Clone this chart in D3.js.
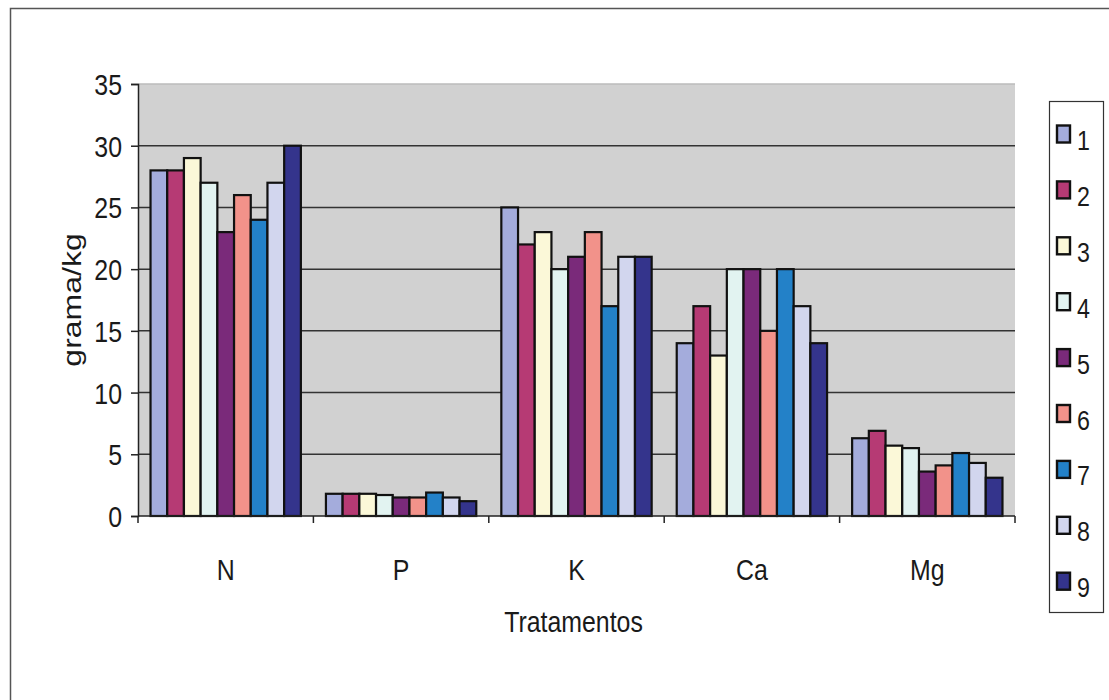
<!DOCTYPE html>
<html>
<head>
<meta charset="utf-8">
<script src="https://cdn.jsdelivr.net/npm/d3@7"></script>
<style>
  body { margin: 0; background: #fff; }
  text { font-family: "Liberation Sans", Arial, sans-serif; fill: #1a1a1a; }
</style>
</head>
<body>
<div id="chart"></div>
<script>
// nutrient categories on the x axis
var categories = ["N", "P", "K", "Ca", "Mg"];
// treatments 1..9 (legend)
var series = ["1", "2", "3", "4", "5", "6", "7", "8", "9"];
// values, one array per treatment (N, P, K, Ca, Mg)
var t1 = [28, 1.8, 25, 14, 6.3];
var t2 = [28, 1.8, 22, 17, 6.9];
var t3 = [29, 1.8, 23, 13, 5.7];
var t4 = [27, 1.7, 20, 20, 5.5];
var t5 = [23, 1.5, 21, 20, 3.6];
var t6 = [26, 1.5, 23, 15, 4.1];
var t7 = [24, 1.9, 17, 20, 5.1];
var t8 = [27, 1.5, 21, 17, 4.3];
var t9 = [30, 1.2, 21, 14, 3.1];
var values = [t1, t2, t3, t4, t5, t6, t7, t8, t9];
var yTicks = [0, 5, 10, 15, 20, 25, 30, 35];
var colors = ["#a4acdc", "#b63a74", "#fbf8d8", "#e2f3f1", "#7a2a7a",
              "#f2928a", "#2381c8", "#d2d6ee", "#34348c"];

var width = 1109, height = 700;
var margin = { left: 138, right: 1015, top: 84, bottom: 516 };
var squeeze = 0.83; // the picture is narrower than it is tall, text too

var svg = d3.select("#chart").append("svg")
    .attr("width", width)
    .attr("height", height);

// text squeezed horizontally like the reference
function label(parent, x, y, str, size, anchor) {
    return parent.append("text")
        .attr("transform", "translate(" + x + "," + y + ") scale(" + squeeze + ",1)")
        .attr("text-anchor", anchor || "start")
        .style("font-size", size + "px")
        .text(str);
}

// outer chart frame (only top and left edges fall inside the picture)
svg.append("rect")
    .attr("x", 10.5).attr("y", 8.5)
    .attr("width", 1130).attr("height", 720)
    .attr("fill", "none")
    .attr("stroke", "#555")
    .attr("stroke-width", 1.5);

var x0 = d3.scaleBand()
    .domain(categories)
    .range([margin.left, margin.right]);

// 150% gap width: 9 bars + 1.5 bar widths of gap per category
var x1 = d3.scaleBand()
    .domain(series)
    .range([0, x0.bandwidth()])
    .paddingOuter(0.75)
    .paddingInner(0);

var y = d3.scaleLinear()
    .domain([0, 35])
    .range([margin.bottom, margin.top]);

// plot area
svg.append("rect")
    .attr("x", margin.left)
    .attr("y", margin.top)
    .attr("width", margin.right - margin.left)
    .attr("height", margin.bottom - margin.top)
    .attr("fill", "#d1d1d1");

// gridlines
svg.append("g")
    .selectAll("line")
    .data(yTicks.filter(function(d) { return d > 0; }))
    .enter().append("line")
    .attr("x1", margin.left)
    .attr("x2", margin.right)
    .attr("y1", function(d) { return y(d); })
    .attr("y2", function(d) { return y(d); })
    .attr("stroke", function(d) { return d == 35 ? "#bbb" : "#333"; })
    .attr("stroke-width", 1.5);

// bars
var groups = svg.append("g")
    .selectAll("g")
    .data(categories)
    .enter().append("g")
    .attr("transform", function(d) { return "translate(" + x0(d) + ",0)"; });

groups.selectAll("rect")
    .data(function(c, ci) {
        return series.map(function(s, si) {
            return { s: s, v: values[si][ci], color: colors[si] };
        });
    })
    .enter().append("rect")
    .attr("x", function(d) { return x1(d.s); })
    .attr("y", function(d) { return y(d.v); })
    .attr("width", x1.bandwidth())
    .attr("height", function(d) { return y(0) - y(d.v); })
    .attr("fill", function(d) { return d.color; })
    .attr("stroke", "#111")
    .attr("stroke-width", 2.2);

// y axis (labels drawn separately so they can be squeezed)
var yAxis = svg.append("g")
    .attr("transform", "translate(" + margin.left + ",0)")
    .call(d3.axisLeft(y).tickValues(yTicks).tickSize(7).tickFormat(""));
yAxis.select(".domain").attr("stroke", "#222").attr("stroke-width", 1.5);
yAxis.selectAll(".tick line").attr("stroke", "#222").attr("stroke-width", 1.5);

var yLabels = svg.append("g");
yTicks.forEach(function(t) {
    label(yLabels, 122, y(t) + 11, t, 30, "end");
});

// x axis with ticks between categories
var xAxis = svg.append("g")
    .attr("transform", "translate(0," + margin.bottom + ")");
xAxis.append("line")
    .attr("x1", margin.left).attr("x2", margin.right)
    .attr("stroke", "#222").attr("stroke-width", 1.5);
xAxis.selectAll(".sep")
    .data(categories.concat(["end"]))
    .enter().append("line")
    .attr("x1", function(d, i) { return margin.left + i * x0.bandwidth(); })
    .attr("x2", function(d, i) { return margin.left + i * x0.bandwidth(); })
    .attr("y1", 0).attr("y2", 7)
    .attr("stroke", "#222").attr("stroke-width", 1.5);

var xLabels = svg.append("g");
categories.forEach(function(c) {
    label(xLabels, x0(c) + x0.bandwidth() / 2, 580, c, 30, "middle");
});

// axis titles
svg.append("text")
    .attr("transform", "translate(81," + (margin.top + margin.bottom) / 2 + ") scale(" + squeeze + ",1) rotate(-90)")
    .attr("text-anchor", "middle")
    .style("font-size", "32px")
    .text("grama/kg");

label(svg, (margin.left + margin.right) / 2 - 3, 632, "Tratamentos", 30, "middle");

// legend
var legend = svg.append("g");
legend.append("rect")
    .attr("x", 1049.5).attr("y", 101.5)
    .attr("width", 54).attr("height", 511)
    .attr("fill", "#fff")
    .attr("stroke", "#333")
    .attr("stroke-width", 1.2);

var items = legend.selectAll(".item")
    .data(series)
    .enter().append("g")
    .attr("transform", function(d, i) { return "translate(1057," + (134 + i * 55.9) + ")"; });
items.append("rect")
    .attr("x", 0).attr("y", -8.5)
    .attr("width", 13).attr("height", 17)
    .attr("fill", function(d, i) { return colors[i]; })
    .attr("stroke", "#111")
    .attr("stroke-width", 2.4);
items.each(function(d) {
    label(d3.select(this), 20, 16, d, 28, "start");
});
</script>
</body>
</html>
